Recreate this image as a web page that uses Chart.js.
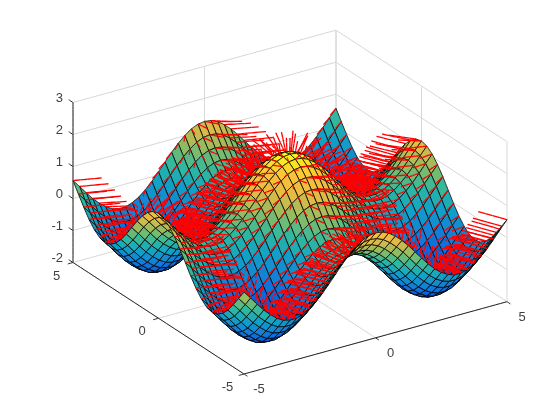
<!DOCTYPE html>
<html>
<head>
<meta charset="utf-8">
<title>surfnorm</title>
<script src="https://cdn.jsdelivr.net/npm/chart.js@4/dist/chart.umd.js"></script>
<style>
html, body { margin: 0; padding: 0; background: #fff; }
canvas { display: block; }
</style>
</head>
<body>
<canvas id="chart" width="560" height="420"></canvas>
<script>
// Grid positions and axis ticks
const xValues = [-5,-4.75,-4.5,-4.25,-4,-3.75,-3.5,-3.25,-3,-2.75,-2.5,-2.25,-2,-1.75,-1.5,-1.25,-1,-0.75,-0.5,-0.25,0,0.25,0.5,0.75,1,1.25,1.5,1.75,2,2.25,2.5,2.75,3,3.25,3.5,3.75,4,4.25,4.5,4.75,5];
const yValues = [-5,-4.6875,-4.375,-4.0625,-3.75,-3.4375,-3.125,-2.8125,-2.5,-2.1875,-1.875,-1.5625,-1.25,-0.9375,-0.625,-0.3125,0,0.3125,0.625,0.9375,1.25,1.5625,1.875,2.1875,2.5,2.8125,3.125,3.4375,3.75,4.0625,4.375,4.6875,5];
const xTicks = [-5, 0, 5];
const yTicks = [-5, 0, 5];
const zTicks = [-2, -1, 0, 1, 2, 3];

// Surface heights, one row per x position, the surface mirrors around x = 0
const row20 = [.56,.25,-.05,-.33,-.54,-.68,-.72,-.67,-.52,-.30,-.02,.29,.60,.87,1.09,1.23,1.28,1.23,1.09,.87,.60,.29,-.02,-.30,-.52,-.67,-.72,-.68,-.54,-.33,-.05,.25,.56];
const row19 = [.32,.01,-.29,-.57,-.78,-.92,-.96,-.91,-.76,-.54,-.26,.05,.36,.63,.85,.99,1.04,.99,.85,.63,.36,.05,-.26,-.54,-.76,-.91,-.96,-.92,-.78,-.57,-.29,.01,.32];
const row18 = [.07,-.24,-.54,-.82,-1.03,-1.17,-1.21,-1.16,-1.01,-.79,-.51,-.20,.11,.38,.60,.74,.79,.74,.60,.38,.11,-.20,-.51,-.79,-1.01,-1.16,-1.21,-1.17,-1.03,-.82,-.54,-.24,.07];
const row17 = [-.17,-.48,-.78,-1.06,-1.27,-1.41,-1.45,-1.40,-1.25,-1.03,-.75,-.44,-.13,.14,.36,.50,.55,.50,.36,.14,-.13,-.44,-.75,-1.03,-1.25,-1.40,-1.45,-1.41,-1.27,-1.06,-.78,-.48,-.17];
const row16 = [-.37,-.68,-.98,-1.26,-1.47,-1.61,-1.65,-1.60,-1.45,-1.23,-.95,-.64,-.33,-.06,.16,.30,.35,.30,.16,-.06,-.33,-.64,-.95,-1.23,-1.45,-1.60,-1.65,-1.61,-1.47,-1.26,-.98,-.68,-.37];
const row15 = [-.54,-.85,-1.15,-1.43,-1.64,-1.78,-1.82,-1.77,-1.62,-1.40,-1.12,-.81,-.50,-.23,-.01,.13,.18,.13,-.01,-.23,-.50,-.81,-1.12,-1.40,-1.62,-1.77,-1.82,-1.78,-1.64,-1.43,-1.15,-.85,-.54];
const row14 = [-.66,-.97,-1.27,-1.55,-1.76,-1.90,-1.94,-1.89,-1.74,-1.52,-1.24,-.93,-.62,-.35,-.13,.01,.06,.01,-.13,-.35,-.62,-.93,-1.24,-1.52,-1.74,-1.89,-1.94,-1.90,-1.76,-1.55,-1.27,-.97,-.66];
const row13 = [-.71,-1.02,-1.32,-1.60,-1.81,-1.95,-1.99,-1.94,-1.79,-1.57,-1.29,-.98,-.67,-.40,-.18,-.04,.01,-.04,-.18,-.40,-.67,-.98,-1.29,-1.57,-1.79,-1.94,-1.99,-1.95,-1.81,-1.60,-1.32,-1.02,-.71];
const row12 = [-.71,-1.02,-1.32,-1.60,-1.81,-1.95,-1.99,-1.94,-1.79,-1.57,-1.29,-.98,-.67,-.40,-.18,-.04,.01,-.04,-.18,-.40,-.67,-.98,-1.29,-1.57,-1.79,-1.94,-1.99,-1.95,-1.81,-1.60,-1.32,-1.02,-.71];
const row11 = [-.64,-.95,-1.25,-1.53,-1.74,-1.88,-1.92,-1.87,-1.72,-1.50,-1.22,-.91,-.60,-.33,-.11,.03,.08,.03,-.11,-.33,-.60,-.91,-1.22,-1.50,-1.72,-1.87,-1.92,-1.88,-1.74,-1.53,-1.25,-.95,-.64];
const row10 = [-.52,-.83,-1.13,-1.41,-1.62,-1.76,-1.80,-1.75,-1.60,-1.38,-1.10,-.79,-.48,-.21,.01,.15,.20,.15,.01,-.21,-.48,-.79,-1.10,-1.38,-1.60,-1.75,-1.80,-1.76,-1.62,-1.41,-1.13,-.83,-.52];
const row9 = [-.35,-.66,-.96,-1.24,-1.45,-1.59,-1.63,-1.58,-1.43,-1.21,-.93,-.62,-.31,-.04,.18,.32,.37,.32,.18,-.04,-.31,-.62,-.93,-1.21,-1.43,-1.58,-1.63,-1.59,-1.45,-1.24,-.96,-.66,-.35];
const row8 = [-.14,-.45,-.75,-1.03,-1.24,-1.38,-1.42,-1.37,-1.22,-1.00,-.72,-.41,-.10,.17,.39,.53,.58,.53,.39,.17,-.10,-.41,-.72,-1.00,-1.22,-1.37,-1.42,-1.38,-1.24,-1.03,-.75,-.45,-.14];
const row7 = [.10,-.21,-.51,-.79,-1.00,-1.14,-1.18,-1.13,-.98,-.76,-.48,-.17,.14,.41,.63,.77,.82,.77,.63,.41,.14,-.17,-.48,-.76,-.98,-1.13,-1.18,-1.14,-1.00,-.79,-.51,-.21,.10];
const row6 = [.35,.04,-.26,-.54,-.75,-.89,-.93,-.88,-.73,-.51,-.23,.08,.39,.66,.88,1.02,1.07,1.02,.88,.66,.39,.08,-.23,-.51,-.73,-.88,-.93,-.89,-.75,-.54,-.26,.04,.35];
const row5 = [.60,.29,-.01,-.29,-.50,-.64,-.68,-.63,-.48,-.26,.02,.33,.64,.91,1.13,1.27,1.32,1.27,1.13,.91,.64,.33,.02,-.26,-.48,-.63,-.68,-.64,-.50,-.29,-.01,.29,.60];
const row4 = [.82,.51,.21,-.07,-.28,-.42,-.46,-.41,-.26,-.04,.24,.55,.86,1.13,1.35,1.49,1.54,1.49,1.35,1.13,.86,.55,.24,-.04,-.26,-.41,-.46,-.42,-.28,-.07,.21,.51,.82];
const row3 = [1.01,.70,.40,.12,-.09,-.23,-.27,-.22,-.07,.15,.43,.74,1.05,1.32,1.54,1.68,1.73,1.68,1.54,1.32,1.05,.74,.43,.15,-.07,-.22,-.27,-.23,-.09,.12,.40,.70,1.01];
const row2 = [1.16,.85,.55,.27,.06,-.08,-.12,-.07,.08,.30,.58,.89,1.20,1.47,1.69,1.83,1.88,1.83,1.69,1.47,1.20,.89,.58,.30,.08,-.07,-.12,-.08,.06,.27,.55,.85,1.16];
const row1 = [1.25,.94,.64,.36,.15,.01,-.03,.02,.17,.39,.67,.98,1.29,1.56,1.78,1.92,1.97,1.92,1.78,1.56,1.29,.98,.67,.39,.17,.02,-.03,.01,.15,.36,.64,.94,1.25];
const row0 = [1.28,.97,.67,.39,.18,.04,.00,.05,.20,.42,.70,1.01,1.32,1.59,1.81,1.95,2.00,1.95,1.81,1.59,1.32,1.01,.70,.42,.20,.05,.00,.04,.18,.39,.67,.97,1.28];
const zRows = [row20,row19,row18,row17,row16,row15,row14,row13,row12,row11,row10,row9,row8,row7,row6,row5,row4,row3,row2,row1,row0,row1,row2,row3,row4,row5,row6,row7,row8,row9,row10,row11,row12,row13,row14,row15,row16,row17,row18,row19,row20];

// Parula colormap stops
const colorStops = [
    [53, 42, 135], [3, 99, 225], [20, 128, 214], [16, 160, 200],
    [45, 184, 160], [140, 188, 100], [226, 186, 70], [253, 194, 56], [249, 251, 21]
];

// Fixed view: maps data coordinates onto the flat chart plane
function project(x, y, z) {
    return {
        x: 244 + (x + 5) * 26.3 - (y + 5) * 17.1,
        y: 374 - (x + 5) * 7.23 - (y + 5) * 11.15 - (z + 2) * 32
    };
}

// Bigger means nearer to the viewer
function depthOf(x, y, z) {
    return -x - 1.538 * y + 0.762 * z;
}

function colorFor(z) {
    const t = Math.min(Math.max((z + 2) / 4, 0), 1) * (colorStops.length - 1);
    const i = Math.min(Math.floor(t), colorStops.length - 2);
    const a = colorStops[i], b = colorStops[i + 1], f = t - i;
    return `rgb(${a.map((v, k) => Math.round(v + (b[k] - v) * f)).join(',')})`;
}

function slopeAt(i, j) {
    const i0 = Math.max(i - 1, 0), i1 = Math.min(i + 1, xValues.length - 1);
    const j0 = Math.max(j - 1, 0), j1 = Math.min(j + 1, yValues.length - 1);
    return {
        dx: (zRows[i1][j] - zRows[i0][j]) / (xValues[i1] - xValues[i0]),
        dy: (zRows[i][j1] - zRows[i][j0]) / (yValues[j1] - yValues[j0])
    };
}

// Collect facets and pieces of the normals, then paint far to near
const items = [];
for (let i = 0; i < xValues.length - 1; i++) {
    for (let j = 0; j < yValues.length - 1; j++) {
        const x0 = xValues[i], x1 = xValues[i + 1];
        const y0 = yValues[j], y1 = yValues[j + 1];
        const zc = (zRows[i][j] + zRows[i + 1][j] + zRows[i][j + 1] + zRows[i + 1][j + 1]) / 4;
        items.push({
            depth: depthOf((x0 + x1) / 2, (y0 + y1) / 2, zc),
            color: colorFor(zRows[i][j]),
            points: [
                project(x0, y0, zRows[i][j]),
                project(x1, y0, zRows[i + 1][j]),
                project(x1, y1, zRows[i + 1][j + 1]),
                project(x0, y1, zRows[i][j + 1]),
                project(x0, y0, zRows[i][j])
            ]
        });
    }
}

const normalLength = 0.1, xRange = 10, yRange = 10, zRange = 5, normalPieces = 4;
for (let i = 0; i < xValues.length; i++) {
    for (let j = 0; j < yValues.length; j++) {
        const s = slopeAt(i, j);
        let nx = -s.dx * xRange / zRange, ny = -s.dy * yRange / zRange, nz = 1;
        const len = Math.hypot(nx, ny, nz);
        nx = nx / len * normalLength * xRange;
        ny = ny / len * normalLength * yRange;
        nz = nz / len * normalLength * zRange;
        const x = xValues[i], y = yValues[j], z = zRows[i][j];
        for (let p = 0; p < normalPieces; p++) {
            const a = p / normalPieces, b = (p + 1) / normalPieces, m = (a + b) / 2;
            items.push({
                depth: depthOf(x + nx * m, y + ny * m, z + nz * m) + 0.2,
                points: [
                    project(x + nx * a, y + ny * a, z + nz * a),
                    project(x + nx * b, y + ny * b, z + nz * b)
                ]
            });
        }
    }
}
items.sort((a, b) => a.depth - b.depth);

// A tiny tension keeps Chart.js off its fast line path, which drops vertical pieces
const lineBase = { showLine: true, pointRadius: 0, clip: false, tension: 0.0001 };

function linesDataset(lines, color) {
    const data = [];
    lines.forEach(l => {
        data.push(project(...l[0]), project(...l[1]), { x: NaN, y: NaN });
    });
    return { ...lineBase, data, borderColor: color, borderWidth: 1, fill: false };
}

// Box lines
const gridLines = [];
zTicks.forEach(z => {
    gridLines.push([[-5, 5, z], [5, 5, z]], [[5, 5, z], [5, -5, z]]);
});
xTicks.forEach(x => {
    gridLines.push([[x, 5, -2], [x, 5, 3]]);
    if (x !== 5) gridLines.push([[x, -5, -2], [x, 5, -2]]);
});
yTicks.forEach(y => {
    gridLines.push([[5, y, -2], [5, y, 3]]);
    if (y !== 5) gridLines.push([[-5, y, -2], [5, y, -2]]);
});

const axisLines = [
    [[-5, -5, -2], [5, -5, -2]],
    [[-5, -5, -2], [-5, 5, -2]],
    [[-5, 5, -2], [-5, 5, 3]]
];
xTicks.forEach(x => axisLines.push([[x, -5, -2], [x, -5.2, -2]]));
yTicks.forEach(y => axisLines.push([[-5, y, -2], [-5.2, y, -2]]));
zTicks.forEach(z => axisLines.push([[-5, 5, z], [-5, 5.25, z]]));

// Chart.js paints the first dataset last, so build back to front and reverse
const datasets = [linesDataset(gridLines, '#d6d6d6'), linesDataset(axisLines, '#262626')];
let redBatch = null;
items.forEach(item => {
    if (item.color) {
        redBatch = null;
        datasets.push({
            ...lineBase,
            data: item.points,
            backgroundColor: item.color,
            borderColor: '#000',
            borderWidth: 0.8,
            fill: 'shape'
        });
    } else {
        if (!redBatch) {
            redBatch = { ...lineBase, data: [], borderColor: '#f00', borderWidth: 1.3, fill: false };
            datasets.push(redBatch);
        }
        redBatch.data.push(item.points[0], item.points[1], { x: NaN, y: NaN });
    }
});
datasets.reverse();

// Tick labels, real text placed from the same scales
const tickLabels = {
    id: 'tickLabels',
    afterDraw(chart) {
        const { ctx, scales } = chart;
        const put = (x, y, z, dx, dy, value, align) => {
            const p = project(x, y, z);
            ctx.textAlign = align;
            ctx.fillText(String(value), scales.x.getPixelForValue(p.x) + dx, scales.y.getPixelForValue(p.y) + dy);
        };
        ctx.save();
        ctx.font = "13px 'Liberation Sans'";
        ctx.fillStyle = '#404040';
        ctx.textBaseline = 'middle';
        zTicks.forEach(z => put(-5, 5, z, -10, -4, z, 'right'));
        xTicks.forEach(x => put(x, -5, -2, 15, 15.5, x, 'center'));
        yTicks.forEach(y => put(-5, y, -2, -16.5, 13.5, y, 'center'));
        ctx.restore();
    }
};

new Chart(document.getElementById('chart'), {
    type: 'scatter',
    data: { datasets },
    plugins: [tickLabels],
    options: {
        responsive: false,
        animation: false,
        events: [],
        layout: { padding: 0 },
        plugins: {
            legend: { display: false },
            tooltip: { enabled: false }
        },
        scales: {
            x: { type: 'linear', min: 0, max: 560, display: false },
            y: { type: 'linear', min: 0, max: 420, reverse: true, display: false }
        }
    }
});
</script>
</body>
</html>
